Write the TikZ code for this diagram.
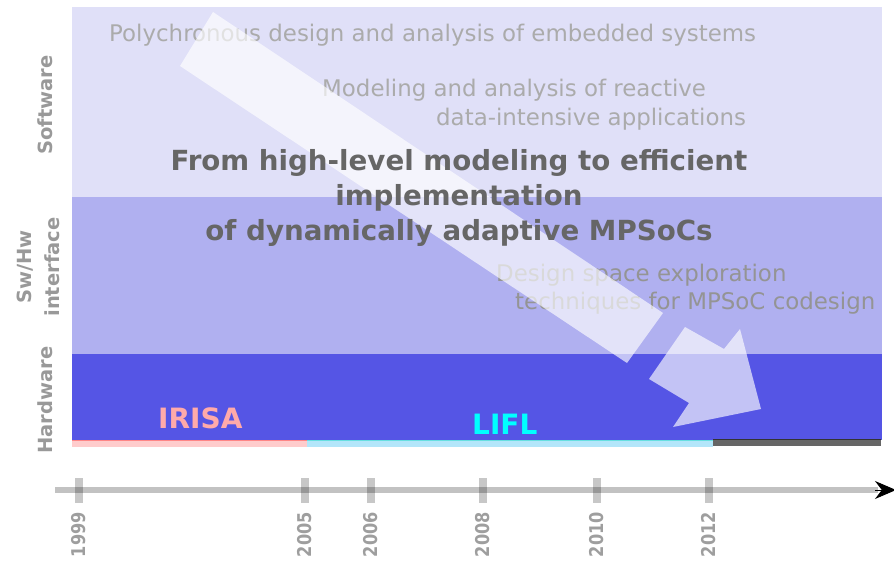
\documentclass[tikz,border=0pt]{standalone}
\usepackage{fontspec}
\setmainfont{DejaVu Sans}
\usetikzlibrary{arrows.meta}
\definecolor{swband}{HTML}{E0E0F8}
\definecolor{ifband}{HTML}{B0B0F0}
\definecolor{hwband}{HTML}{5555E5}
\definecolor{irisapink}{HTML}{FFAAAA}
\definecolor{lifllcyan}{HTML}{00FFFF}

\begin{document}
\begin{tikzpicture}[x=1pt,y=-1pt,faint/.style={inner sep=0,anchor=base west,text=black!33,font=\fontsize{22.9}{28}\selectfont},layer/.style={inner sep=0,rotate=90,text=black!40,font=\bfseries\fontsize{19.5}{28}\selectfont},year/.style={inner sep=0,rotate=90,anchor=east,text=black!38,font=\bfseries\fontsize{19}{20}\selectfont},tick/.style={draw=black,draw opacity=0.22,line width=8pt},lab/.style={inner sep=0,anchor=base west,font=\bfseries\fontsize{28}{30}\selectfont}]
\useasboundingbox (0,0) rectangle (894,561);
% layers
\fill[swband] (72,7) rectangle (882,197);
\fill[ifband] (72,197) rectangle (882,354);
\fill[hwband] (72,354) rectangle (882,440);
\node[layer,anchor=base] (sw) at (52,105) {Software};
\node[layer,align=center] (swhw) at (38,267) {Sw/Hw\\interface};
\node[layer,anchor=base] (hw) at (52,400) {Hardware};
% lab periods
\fill[fill=pink!80!white] (72,440) rectangle (307,447);
\draw[red!30!pink,line width=1pt] (72,440.5) -- (307,440.5);
\fill[fill=cyan!30!white] (307,440) rectangle (713,447);
\draw[teal!40!cyan!60,line width=1pt] (307,440.5) -- (713,440.5);
\fill[fill=black!60] (713,439) rectangle (881,446);
\draw[black!80,line width=1pt] (713,439.5) -- (881,439.5);
\node[lab,text=irisapink] (irisa) at (158,428) {IRISA};
\node[lab,text=lifllcyan] (lifl) at (472,434) {LIFL};
% research topics
\node[faint] (poly) at (109,41.5) {Polychronous design and analysis of embedded systems};
\node[faint] (model) at (322,97) {Modeling and analysis of reactive};
\node[faint] (model2) at (436,126) {data-intensive applications};
\node[faint,text=black!42] (dse) at (496,281.5) {Design space exploration};
\node[faint,text=black!42] (dse2) at (515,309.5) {techniques for MPSoC codesign};
% big arrow
\fill[white,opacity=0.65] (213,12) -- (663,313) -- (627,363) -- (180,66) -- cycle;
\fill[white,opacity=0.65] (649,379) -- (685,327) -- (724,349) -- (740,329) -- (761,409) -- (673,427) -- (689,403) -- cycle;
\node[inner sep=0,align=center,text=black!60,font=\bfseries\fontsize{27.7}{35}\selectfont] (goal) at (459,198) {From high-level modeling to efficient\\implementation\\of dynamically adaptive MPSoCs};
% time line
\coordinate (tstart) at (55,490);
\coordinate (tend) at (896,490);
\draw[draw=black,draw opacity=0.24,line width=6pt] (tstart) -- (878,490);
\draw[black,line width=1pt,-{Stealth[length=21pt,width=18pt]}] (875,490) -- (tend);
\draw[tick] (79,478) -- (79,503);
\draw[tick] (305,478) -- (305,503);
\draw[tick] (371,478) -- (371,503);
\draw[tick] (483,478) -- (483,503);
\draw[tick] (597,478) -- (597,503);
\draw[tick] (709,478) -- (709,503);
\node[year] (y1999) at (79,512) {\scalebox{0.85}[1]{1999}};
\node[year] (y2005) at (305,512) {\scalebox{0.85}[1]{2005}};
\node[year] (y2006) at (371,512) {\scalebox{0.85}[1]{2006}};
\node[year] (y2008) at (483,512) {\scalebox{0.85}[1]{2008}};
\node[year] (y2010) at (597,512) {\scalebox{0.85}[1]{2010}};
\node[year] (y2012) at (709,512) {\scalebox{0.85}[1]{2012}};
\end{tikzpicture}
\end{document}
